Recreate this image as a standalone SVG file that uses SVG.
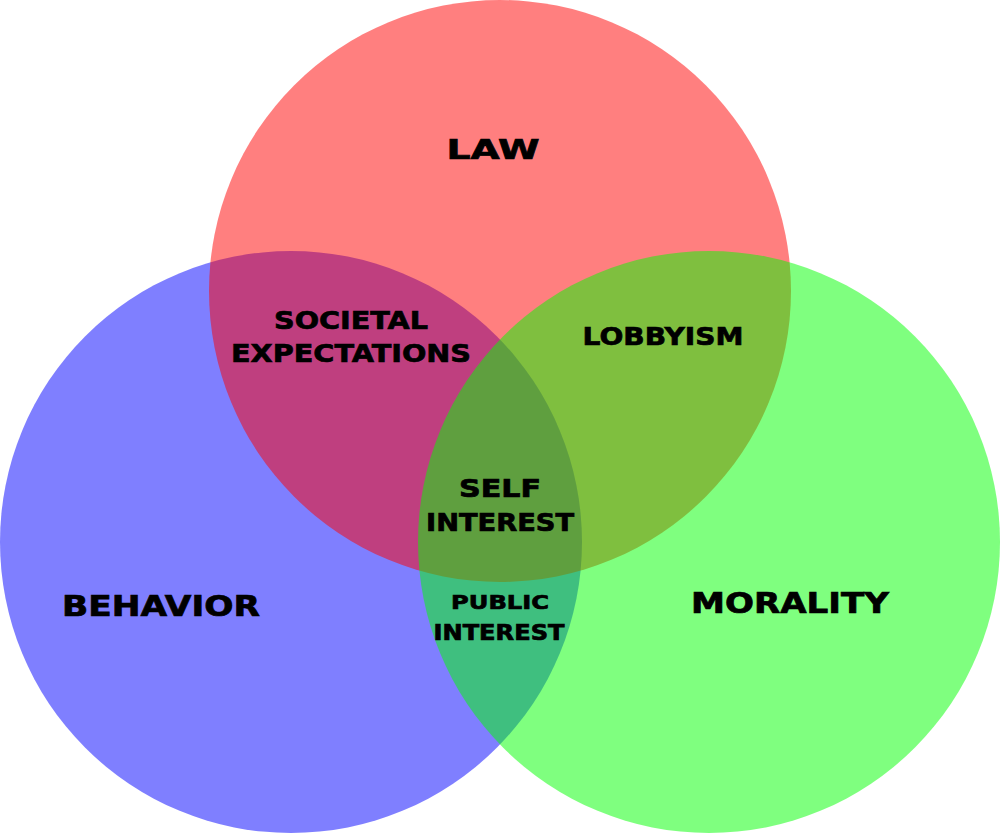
<svg xmlns="http://www.w3.org/2000/svg" width="1000" height="833" viewBox="0 0 1000 833">
<style>
text{font-family:"DejaVu Sans","Liberation Sans",sans-serif;font-weight:bold;fill:#000;stroke:#000;stroke-width:0.7;text-anchor:middle}
.c{fill-opacity:0.5}
</style>
<rect width="1000" height="833" fill="#fff"/>
<g id="behavior"><circle class="c" cx="291" cy="542" r="291" fill="#0000ff"/></g>
<g id="law"><circle class="c" cx="500" cy="291" r="291" fill="#ff0000"/></g>
<g id="morality"><circle class="c" cx="709" cy="542" r="291" fill="#00ff00"/></g>
<g id="connectors"></g>
<g id="labels">
<text x="493" y="159" font-size="26" textLength="93" lengthAdjust="spacingAndGlyphs">LAW</text>
<text x="351" y="329" font-size="25" textLength="154" lengthAdjust="spacingAndGlyphs">SOCIETAL</text>
<text x="351" y="362" font-size="25" textLength="240" lengthAdjust="spacingAndGlyphs">EXPECTATIONS</text>
<text x="663" y="345" font-size="25" textLength="161" lengthAdjust="spacingAndGlyphs">LOBBYISM</text>
<text x="500" y="497" font-size="24" textLength="82" lengthAdjust="spacingAndGlyphs">SELF</text>
<text x="500" y="531" font-size="24" textLength="148" lengthAdjust="spacingAndGlyphs">INTEREST</text>
<text x="500" y="609" font-size="20" textLength="98" lengthAdjust="spacingAndGlyphs">PUBLIC</text>
<text x="499" y="640" font-size="21" textLength="131" lengthAdjust="spacingAndGlyphs">INTEREST</text>
<text x="161" y="616" font-size="28" textLength="198" lengthAdjust="spacingAndGlyphs">BEHAVIOR</text>
<text x="790" y="613" font-size="28" textLength="198" lengthAdjust="spacingAndGlyphs">MORALITY</text>
</g>
</svg>
